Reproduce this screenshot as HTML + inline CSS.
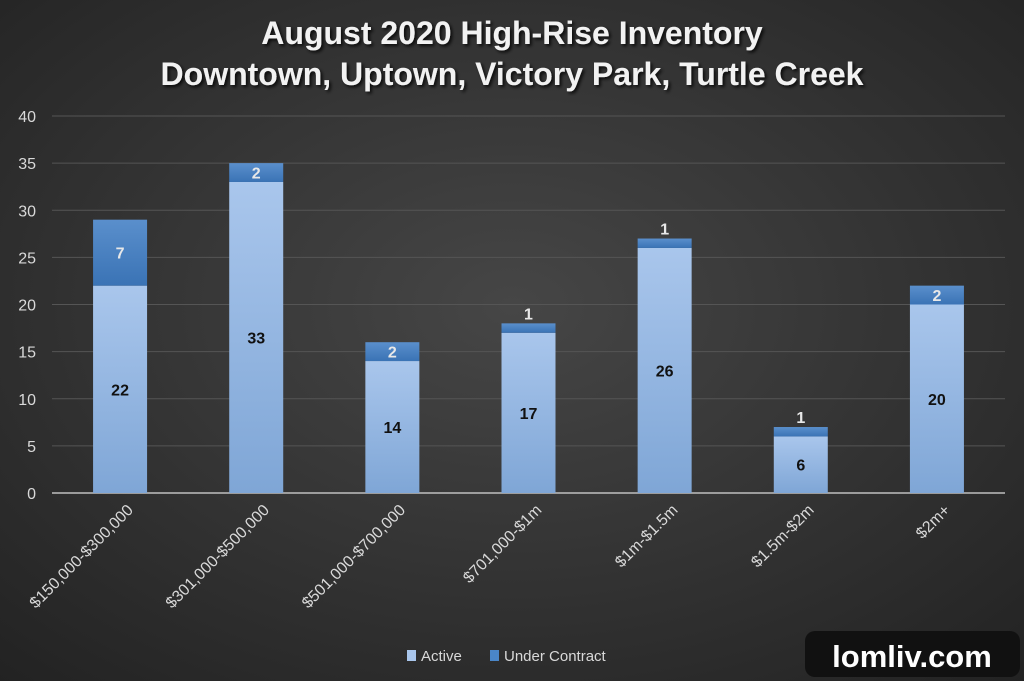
<!DOCTYPE html>
<html><head><meta charset="utf-8"><style>
html,body{margin:0;padding:0;width:1024px;height:681px;overflow:hidden;background:#2e2e2e}
svg{display:block;font-family:"Liberation Sans",sans-serif}
</style></head><body>
<svg id="chart" width="1024" height="681" viewBox="0 0 1024 681">
<defs>
<radialGradient id="bg" cx="50%" cy="45%" r="75%">
<stop offset="0" stop-color="#464646"/><stop offset="1" stop-color="#222"/>
</radialGradient>
<linearGradient id="ga" x1="0" y1="0" x2="0" y2="1"><stop offset="0" stop-color="#a9c6ec"/><stop offset="1" stop-color="#7fa6d6"/></linearGradient>
<linearGradient id="gu" x1="0" y1="0" x2="0" y2="1"><stop offset="0" stop-color="#5a8fcc"/><stop offset="1" stop-color="#3a73b5"/></linearGradient>
<filter id="sh"><feDropShadow dx="2" dy="2" stdDeviation="1.5" flood-color="#000" flood-opacity="0.8"/></filter>
</defs>
<rect width="1024" height="681" fill="url(#bg)"/>
<text x="512" y="44" text-anchor="middle" fill="#f2f2f2" font-size="32" font-weight="bold" filter="url(#sh)">August 2020 High-Rise Inventory</text>
<text x="512" y="85" text-anchor="middle" fill="#f2f2f2" font-size="32" font-weight="bold" filter="url(#sh)">Downtown, Uptown, Victory Park, Turtle Creek</text>
<g id="grid"></g><g id="bars"></g><g id="xlabels"></g>
<g>
<rect x="407" y="650" width="9" height="11" fill="#a9c6ec"/>
<text x="421" y="661" fill="#d9d9d9" font-size="15">Active</text>
<rect x="490" y="650" width="9" height="11" fill="#4a86c8"/>
<text x="504" y="661" fill="#d9d9d9" font-size="15">Under Contract</text>
</g>
<g>
<rect x="805" y="631" width="215" height="46" rx="10" fill="#111"/>
<text x="912" y="667" text-anchor="middle" fill="#fff" font-size="31" font-weight="bold">lomliv.com</text>
</g>
</svg>
<script>
const categories=["$150,000-$300,000","$301,000-$500,000","$501,000-$700,000","$701,000-$1m","$1m-$1.5m","$1.5m-$2m","$2m+"];
const active=[22,33,14,17,26,6,20];
const underContract=[7,2,2,1,1,1,2];
const yTicks=[0,5,10,15,20,25,30,35,40];
const NS="http://www.w3.org/2000/svg";
const x0=52,x1=1005,y0=493,yTop=116,yMax=40;
const y=v=>y0-(v/yMax)*(y0-yTop);
const step=(x1-x0)/categories.length;
const xc=i=>x0+step*(i+0.5);
const bw=54;
function mk(tag,attrs,parent,txt){const e=document.createElementNS(NS,tag);for(const k in attrs)e.setAttribute(k,attrs[k]);if(txt!==undefined)e.textContent=txt;parent.appendChild(e);return e;}
const grid=document.getElementById('grid'),bars=document.getElementById('bars'),xl=document.getElementById('xlabels');
yTicks.forEach(t=>{
  if(t>0){const l=mk('line',{x1:x0,x2:x1,y1:y(t),y2:y(t),stroke:'#555','stroke-width':1},grid);
  
  }
  const tx=mk('text',{x:36,y:y(t)+6,'text-anchor':'end',fill:'#d9d9d9','font-size':16},grid,t);
  
  
});
const ax=mk('line',{x1:x0,x2:x1,y1:y0,y2:y0,stroke:'#bfbfbf','stroke-width':1.5},grid);


categories.forEach((c,i)=>{
  const cx=xc(i),a=active[i],u=underContract[i];
  const r1=mk('rect',{x:cx-bw/2,y:y(a),width:bw,height:y0-y(a),fill:'url(#ga)'},bars);
  
  
  const r2=mk('rect',{x:cx-bw/2,y:y(a+u),width:bw,height:y(a)-y(a+u),fill:'url(#gu)'},bars);
  
  
  const la=mk('text',{x:cx,y:(y(a)+y0)/2+6,'text-anchor':'middle',fill:'#111','font-size':16,'font-weight':'bold'},bars,a);
  
  
  const h=y(a)-y(a+u);
  const ly=h>14?(y(a)+y(a+u))/2+6:y(a+u)-4;
  const lu=mk('text',{x:cx,y:ly,'text-anchor':'middle',fill:'#e8e8e8','font-size':16,'font-weight':'bold'},bars,u);
  
  
  const t=mk('text',{x:cx+14,y:y0+18,'text-anchor':'end',fill:'#d9d9d9','font-size':16,transform:`rotate(-45 ${cx+14} ${y0+18})`},xl,c);
  
  
});
</script>
</body></html>
